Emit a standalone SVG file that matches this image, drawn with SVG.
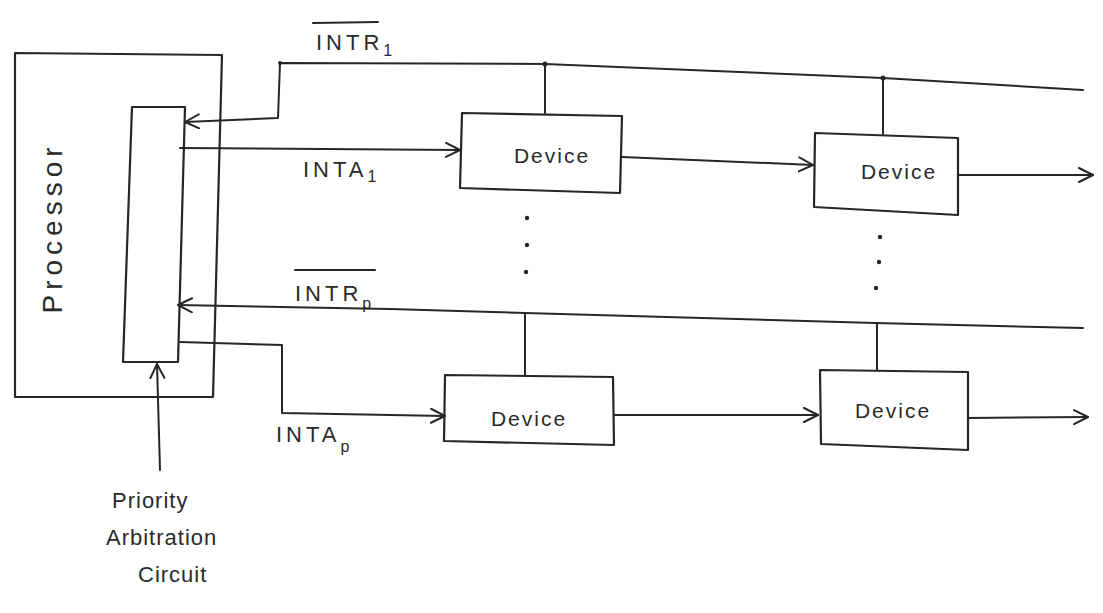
<svg xmlns="http://www.w3.org/2000/svg" width="1103" height="613" viewBox="0 0 1103 613">
<style>
.ln{fill:none;stroke:#262626;stroke-width:2;stroke-linejoin:round;stroke-linecap:round}
.bx{fill:none;stroke:#262626;stroke-width:2.2;stroke-linejoin:round}
.t{font-family:"Liberation Sans",Arial,sans-serif;fill:#2a2a2a}
.lbl{font-size:22px;letter-spacing:4px}
.sub{font-size:16px}
.dev{font-size:21px;letter-spacing:2px}
.pac{font-size:22px;letter-spacing:1px}
.dot{fill:#262626}
</style>
<defs>
<marker id="arr" markerUnits="userSpaceOnUse" markerWidth="20" markerHeight="20" refX="15" refY="8" orient="auto">
<path d="M1,1 L15,8 L1,15" fill="none" stroke="#262626" stroke-width="2" stroke-linecap="round" stroke-linejoin="round"/>
</marker>
</defs>
<rect width="1103" height="613" fill="#ffffff"/>

<g id="processor">
<path class="bx" d="M15,53 L222,55 L213,397 L15,397 Z"/>
<text class="t" x="0" y="0" font-size="28" letter-spacing="5" text-anchor="middle" transform="translate(62,228) rotate(-90)">Processor</text>
</g>

<g id="arbiter">
<path class="bx" d="M132,107 L185,107 L178,362 L123,362 Z"/>
</g>

<g id="device1">
<path class="bx" d="M462,113 L622,116 L620,193 L460,188 Z"/>
<text class="t dev" x="552" y="163" text-anchor="middle">Device</text>
</g>
<g id="device2">
<path class="bx" d="M815,133 L958,138 L958,215 L814,207 Z"/>
<text class="t dev" x="899" y="179" text-anchor="middle">Device</text>
</g>
<g id="device3">
<path class="bx" d="M445,375 L613,377 L614,445 L444,441 Z"/>
<text class="t dev" x="529" y="426" text-anchor="middle">Device</text>
</g>
<g id="device4">
<path class="bx" d="M820,370 L968,372 L968,450 L821,444 Z"/>
<text class="t dev" x="893" y="418" text-anchor="middle">Device</text>
</g>

<g id="connectors">
<polyline class="ln" points="1083,90 883,78 545,64 280,63 278,118 185,122" marker-end="url(#arr)"/>
<polyline class="ln" points="180,148 460,150" marker-end="url(#arr)"/>
<polyline class="ln" points="1083,328 875,323 525,313 390,309 178,305" marker-end="url(#arr)"/>
<polyline class="ln" points="180,342 282,345 282,413 445,416" marker-end="url(#arr)"/>
<line class="ln" x1="545" y1="64" x2="545" y2="113"/>
<line class="ln" x1="883" y1="78" x2="883" y2="134"/>
<line class="ln" x1="525" y1="313" x2="525" y2="375"/>
<line class="ln" x1="877" y1="323" x2="877" y2="370"/>
<polyline class="ln" points="622,157 813,165" marker-end="url(#arr)"/>
<polyline class="ln" points="958,175 1093,175" marker-end="url(#arr)"/>
<polyline class="ln" points="614,415 818,415" marker-end="url(#arr)"/>
<polyline class="ln" points="968,418 1088,417" marker-end="url(#arr)"/>
<polyline class="ln" points="160,470 157,364" marker-end="url(#arr)"/>
<circle class="dot" cx="545" cy="64" r="2.5"/>
<circle class="dot" cx="883" cy="78" r="2.5"/>
<circle class="dot" cx="280" cy="63" r="2"/>
<circle class="dot" cx="527" cy="218" r="2.2"/>
<circle class="dot" cx="527" cy="245" r="2.2"/>
<circle class="dot" cx="526" cy="272" r="2.2"/>
<circle class="dot" cx="880" cy="237" r="2.2"/>
<circle class="dot" cx="879" cy="262" r="2.2"/>
<circle class="dot" cx="876" cy="288" r="2.2"/>
</g>

<g id="labels">
<text class="t lbl" x="316" y="50">INTR<tspan class="sub" dy="6">1</tspan></text>
<line class="ln" x1="313" y1="23" x2="378" y2="22"/>
<text class="t lbl" x="303" y="177">INTA<tspan class="sub" dy="5">1</tspan></text>
<text class="t lbl" x="295" y="301">INTR<tspan class="sub" dy="8">p</tspan></text>
<line class="ln" x1="295" y1="270" x2="375" y2="270"/>
<text class="t lbl" x="276" y="442">INTA<tspan class="sub" dy="10">p</tspan></text>
<text class="t pac" x="112" y="508">Priority</text>
<text class="t pac" x="106" y="545">Arbitration</text>
<text class="t pac" x="138" y="582">Circuit</text>
</g>
</svg>
